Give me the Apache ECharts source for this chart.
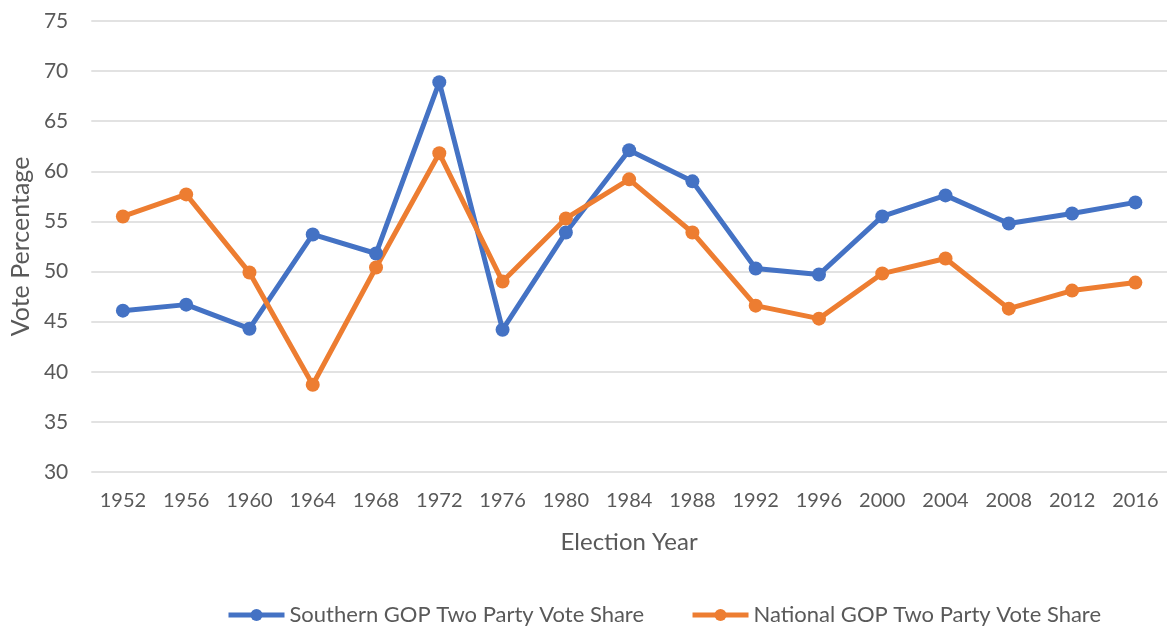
<!DOCTYPE html>
<html>
<head>
<meta charset="utf-8">
<script src="https://cdn.jsdelivr.net/npm/echarts@6/dist/echarts.min.js"></script>
<style>
  html, body { margin: 0; padding: 0; background: #fff; }
  #main { width: 1167px; height: 627px; }
</style>
</head>
<body>
<div id="main"></div>
<script>
  // election years on the x axis
  var years = ['1952', '1956', '1960', '1964', '1968', '1972', '1976', '1980', '1984',
               '1988', '1992', '1996', '2000', '2004', '2008', '2012', '2016'];
  // GOP share of the two-party vote
  var southern = [46.1, 46.7, 44.3, 53.7, 51.8, 68.9, 44.2, 53.9, 62.1,
                  59.0, 50.3, 49.7, 55.5, 57.6, 54.8, 55.8, 56.9];
  var national = [55.5, 57.7, 49.9, 38.7, 50.4, 61.8, 49.0, 55.3, 59.2,
                  53.9, 46.6, 45.3, 49.8, 51.3, 46.3, 48.1, 48.9];

  var FONT = 'Lato';
  var myChart = echarts.init(document.getElementById('main'));
  var option = {
    animation: false,
    color: ['#4472C4', '#ED7D31'],
    textStyle: { fontFamily: FONT },
    grid: {
      left: 91,
      top: 21,
      width: 1080,
      height: 451,
      containLabel: false
    },
    legend: {
      top: 599,
      left: 221,
      itemWidth: 56,
      itemHeight: 15,
      itemGap: 46,
      lineStyle: { width: 5 },
      textStyle: { fontSize: 22, color: '#595959', fontFamily: FONT },
      data: ['Southern GOP Two Party Vote Share', 'National GOP Two Party Vote Share']
    },
    xAxis: {
      type: 'category',
      data: years,
      name: 'Election Year',
      nameLocation: 'middle',
      nameGap: 58,
      nameTextStyle: { fontSize: 24, color: '#595959' },
      axisLine: { show: false },
      axisTick: { show: false },
      axisLabel: { fontSize: 20, color: '#595959', margin: 19, interval: 0 },
      splitLine: { show: false }
    },
    yAxis: {
      type: 'value',
      min: 30,
      max: 75,
      interval: 5,
      name: 'Vote Percentage',
      nameLocation: 'middle',
      nameGap: 56,
      nameTextStyle: { fontSize: 25, color: '#595959' },
      axisLine: { show: false },
      axisTick: { show: false },
      axisLabel: { fontSize: 21, color: '#595959', margin: 23 },
      splitLine: { lineStyle: { color: '#d9d9d9', width: 1.5 } }
    },
    series: [
      {
        name: 'Southern GOP Two Party Vote Share',
        type: 'line',
        data: southern,
        symbol: 'circle',
        symbolSize: 14,
        lineStyle: { width: 5 }
      },
      {
        name: 'National GOP Two Party Vote Share',
        type: 'line',
        data: national,
        symbol: 'circle',
        symbolSize: 14,
        lineStyle: { width: 5 }
      }
    ]
  };
  myChart.setOption(option);
</script>
</body>
</html>
